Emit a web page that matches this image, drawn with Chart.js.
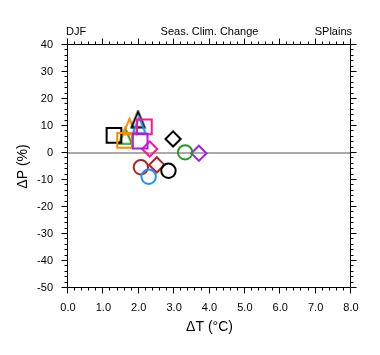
<!DOCTYPE html>
<html>
<head>
<meta charset="utf-8">
<script src="https://cdn.jsdelivr.net/npm/chart.js@4/dist/chart.umd.min.js"></script>
<style>
html,body{margin:0;padding:0;background:#fff;}
#wrap{width:380px;height:355px;position:relative;}
</style>
</head>
<body>
<div id="wrap"><canvas id="c"></canvas></div>
<script>
// ---- data ----
const titleLeft = "DJF";
const titleCenter = "Seas. Clim. Change";
const titleRight = "SPlains";
const xTitle = "\u0394T (\u00B0C)";
const yTitle = "\u0394P (%)";

const xTicks = [0,1,2,3,4,5,6,7,8];
const yTicks = [-50,-40,-30,-20,-10,0,10,20,30,40];

// squares
const squareX = [1.30, 1.60, 2.16, 2.04];
const squareY = [6.5, 4.7, 9.7, 4.4];
const squareC = ["#000000", "#ff8c00", "#ff1493", "#a020f0"];
// triangles
const triX = [1.62, 1.74, 1.98, 2.01];
const triY = [6.3, 9.9, 12.5, 10.3];
const triC = ["#229922", "#ff8c00", "#000000", "#1e90ff"];
// circles
const circX = [2.06, 2.28, 2.84, 3.31];
const circY = [-5.3, -8.8, -6.6, 0.25];
const circC = ["#b22222", "#1e90ff", "#000000", "#229922"];
// diamonds
const diaX = [2.31, 2.97, 2.51, 3.70];
const diaY = [1.5, 5.2, -4.4, -0.1];
const diaC = ["#ff1493", "#000000", "#b22222", "#a020f0"];

const FONT = "'Liberation Sans', Arial, Helvetica, sans-serif";

function pts(xs, ys){ return xs.map((v,i)=>({x:v, y:ys[i]})); }

function triCanvas(color){
  const c = document.createElement('canvas');
  const w = 17, h = 19;
  c.width = w; c.height = h;
  const g = c.getContext('2d');
  g.strokeStyle = color; g.lineWidth = 2; g.lineJoin = 'miter';
  g.beginPath();
  g.moveTo(w/2, 1.8);
  g.lineTo(w-2, h-1.5);
  g.lineTo(2, h-1.5);
  g.closePath();
  g.stroke();
  return c;
}

const deco = {
  id: 'deco',
  beforeDatasetsDraw(chart){
    const {ctx, chartArea:a, scales:{y}} = chart;
    ctx.save();
    ctx.strokeStyle = '#aaaaaa';
    ctx.lineWidth = 2;
    const y0 = Math.round(y.getPixelForValue(0));
    ctx.beginPath(); ctx.moveTo(a.left, y0); ctx.lineTo(a.right, y0); ctx.stroke();
    ctx.restore();
  },
  afterDraw(chart){
    const {ctx, chartArea:a, scales:{x,y}} = chart;
    const cr = p => Math.round(p) - 0.5;
    ctx.save();
    ctx.strokeStyle = '#000'; ctx.lineWidth = 1;
    const L = cr(a.left), R = cr(a.right), T = cr(a.top), B = cr(a.bottom);
    ctx.beginPath();
    ctx.moveTo(L, T); ctx.lineTo(R, T); ctx.lineTo(R, B); ctx.lineTo(L, B); ctx.closePath();
    // x ticks (major every 1, minor every 0.2)
    for (let i = 0; i <= 40; i++){
      const px = cr(x.getPixelForValue(i/5));
      const len = (i % 5 === 0) ? 6 : 3;
      ctx.moveTo(px, B); ctx.lineTo(px, B + len);
      ctx.moveTo(px, T); ctx.lineTo(px, T - len);
    }
    // y ticks (major every 10, minor every 2)
    for (let i = -25; i <= 20; i++){
      const py = cr(y.getPixelForValue(i*2));
      const len = (i % 5 === 0) ? 6 : 3;
      ctx.moveTo(L, py); ctx.lineTo(L - len, py);
      ctx.moveTo(R, py); ctx.lineTo(R + len, py);
    }
    ctx.stroke();

    // texts
    ctx.fillStyle = '#000';
    ctx.textBaseline = 'middle';
    ctx.font = '11px ' + FONT;
    ctx.textAlign = 'left';  ctx.fillText(titleLeft, 66, 31.5);
    ctx.textAlign = 'center'; ctx.fillText(titleCenter, 209.5, 31.5);
    ctx.textAlign = 'right'; ctx.fillText(titleRight, 352, 31.5);

    ctx.font = '14px ' + FONT;
    ctx.textAlign = 'center';
    ctx.fillText(xTitle, (a.left + a.right)/2, 327);
    ctx.save();
    ctx.translate(23, (a.top + a.bottom)/2);
    ctx.rotate(-Math.PI/2);
    ctx.fillText(yTitle, 0, 0);
    ctx.restore();
    ctx.restore();
  }
};

new Chart(document.getElementById('c'), {
  type: 'scatter',
  data: {
    datasets: [
      { data: pts(squareX, squareY), pointStyle: 'rect', pointRadius: 10.4,
        pointBorderColor: squareC, pointBackgroundColor: 'rgba(0,0,0,0)', pointBorderWidth: 2 },
      { data: pts(triX, triY), pointStyle: triC.map(triCanvas), pointRadius: 9,
        pointBorderColor: triC, pointBackgroundColor: 'rgba(0,0,0,0)', pointBorderWidth: 2 },
      { data: pts(circX, circY), pointStyle: 'circle', pointRadius: 7.2,
        pointBorderColor: circC, pointBackgroundColor: 'rgba(0,0,0,0)', pointBorderWidth: 2 },
      { data: pts(diaX, diaY), pointStyle: 'rectRot', pointRadius: 7.6,
        pointBorderColor: diaC, pointBackgroundColor: 'rgba(0,0,0,0)', pointBorderWidth: 2 }
    ]
  },
  options: {
    responsive: true,
    maintainAspectRatio: false,
    animation: false,
    events: [],
    layout: { padding: { left: 0, right: 29, top: 45, bottom: 0 } },
    plugins: { legend: { display: false }, tooltip: { enabled: false }, title: { display: false } },
    scales: {
      x: {
        type: 'linear', min: 0, max: 8,
        grid: { display: false, drawTicks: false },
        border: { display: false },
        afterBuildTicks: s => { s.ticks = xTicks.map(v => ({value: v})); },
        ticks: { color: '#000', font: { family: FONT, size: 11 }, padding: 13,
                 maxRotation: 0, autoSkip: false, callback: v => Number(v).toFixed(1) },
        afterFit: s => { s.height = 67; }
      },
      y: {
        type: 'linear', min: -50, max: 40,
        grid: { display: false, drawTicks: false },
        border: { display: false },
        afterBuildTicks: s => { s.ticks = yTicks.map(v => ({value: v})); },
        ticks: { color: '#000', font: { family: FONT, size: 11 }, padding: 15,
                 autoSkip: false, callback: v => String(v) },
        afterFit: s => { s.width = 68; }
      }
    }
  },
  plugins: [deco]
});
</script>
</body>
</html>
